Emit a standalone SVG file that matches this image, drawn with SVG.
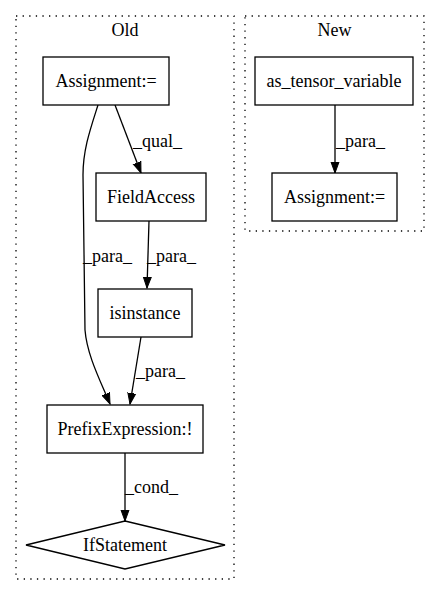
<svg xmlns="http://www.w3.org/2000/svg" width="440" height="596" viewBox="0 0 440 596">
<defs>
<marker id="ah" markerWidth="12" markerHeight="12" refX="11" refY="5" orient="auto" markerUnits="userSpaceOnUse">
<path d="M0,1 L11,5 L0,9 Z" fill="#000" stroke="#000"/>
</marker>
</defs>
<style>
.c{text-anchor:middle}
.n{fill:#fff;stroke:#000;stroke-width:1.3}
.cl{fill:none;stroke:#000;stroke-width:1.3;stroke-dasharray:1.3,5.3}
.e{fill:none;stroke:#000;stroke-width:1.3;marker-end:url(#ah)}
</style>
<rect width="440" height="596" fill="#fff"/>
<g font-family="Liberation Serif, Times New Roman, serif" font-size="18" fill="#000">
<g id="cluster_old">
<rect class="cl" x="16" y="16" width="218" height="563"/>
<text class="c" x="125" y="36">Old</text>
</g>
<g id="cluster_new">
<rect class="cl" x="245" y="16" width="179" height="215"/>
<text class="c" x="334.5" y="36">New</text>
</g>
<g id="edges">
<path class="e" d="M115,105 L141,173"/>
<text x="133" y="147">_qual_</text>
<path class="e" d="M98,105 C90,130 83,150 83,175 L85,330 C87,355 100,380 110,404"/>
<text x="83" y="262">_para_</text>
<path class="e" d="M149,221 L147,288"/>
<text x="147" y="262">_para_</text>
<path class="e" d="M141,337 L130,404"/>
<text x="136" y="377">_para_</text>
<path class="e" d="M125,453 L125,521"/>
<text x="125" y="493">_cond_</text>
<path class="e" d="M335,105 L335,173"/>
<text x="336" y="147">_para_</text>
</g>
<g id="node_assign_old">
<rect class="n" x="43" y="57" width="126" height="48"/>
<text class="c" x="106" y="87">Assignment:=</text>
</g>
<g id="node_fieldaccess">
<rect class="n" x="96" y="173" width="110" height="48"/>
<text class="c" x="151" y="203">FieldAccess</text>
</g>
<g id="node_isinstance">
<rect class="n" x="98" y="289" width="94" height="48"/>
<text class="c" x="145" y="319">isinstance</text>
</g>
<g id="node_prefix">
<rect class="n" x="47" y="405" width="156" height="48"/>
<text class="c" x="125" y="435">PrefixExpression:!</text>
</g>
<g id="node_if">
<polygon class="n" points="125,521 225,545 125,569 26,545"/>
<text class="c" x="125" y="551">IfStatement</text>
</g>
<g id="node_astensor">
<rect class="n" x="255" y="57" width="158" height="48"/>
<text class="c" x="334" y="87">as_tensor_variable</text>
</g>
<g id="node_assign_new">
<rect class="n" x="272" y="173" width="125" height="48"/>
<text class="c" x="334.5" y="203">Assignment:=</text>
</g>
</g>
</svg>
